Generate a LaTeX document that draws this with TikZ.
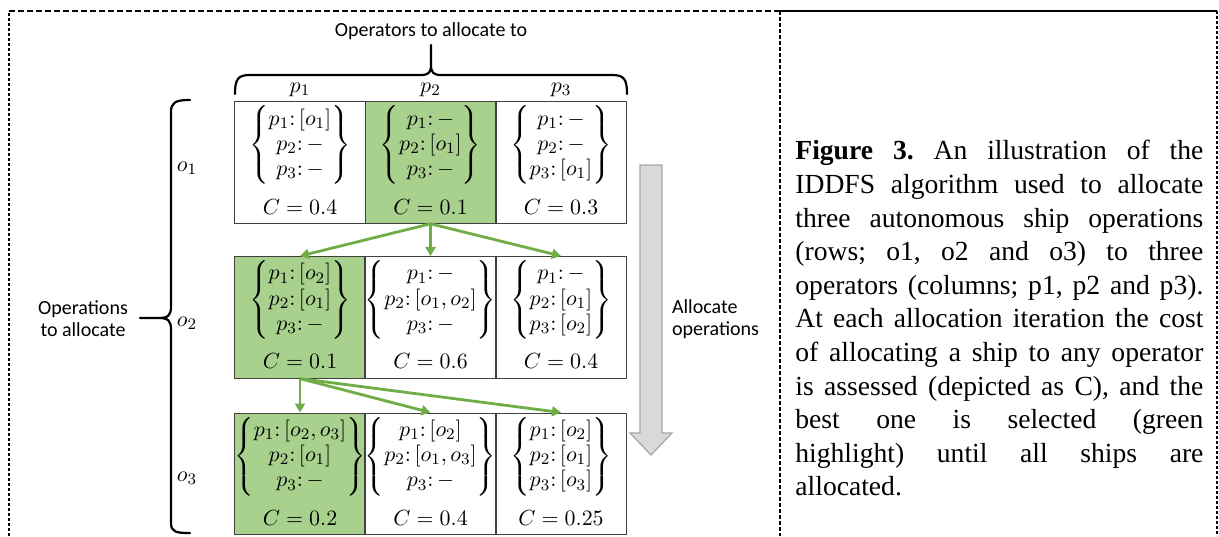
\documentclass[tikz,border=0pt]{standalone}
\usepackage{amsmath}
\usepackage{fontspec}
\newfontfamily\capfont{Liberation Serif}
\newfontfamily\lblfont{Carlito}
\usetikzlibrary{arrows.meta}
\definecolor{selgreen}{RGB}{169,209,142}
\definecolor{pickgreen}{RGB}{112,173,71}

\begin{document}
\begin{tikzpicture}[x=0.5pt, y=-0.5pt,
    every node/.style={font=\fontsize{11}{12.6}\selectfont},
    cellbox/.style={draw=black!75, line width=0.5pt, minimum width=65.5pt, minimum height=60.8pt,
      inner sep=0pt, text height=24.5pt, text depth=36.3pt},
    costlbl/.style={anchor=south, yshift=1.3pt},
    pick/.style={pickgreen, line width=1.4pt, -{Triangle[length=4.5pt,width=5pt]}},
    brace/.style={line width=1.1pt, line cap=round, line join=round},
    lbl/.style={font=\lblfont\fontsize{10}{11}\selectfont, align=center}]
  \useasboundingbox (0,0) rectangle (1219,536);

  % frame
  \draw[line width=1pt, dash pattern=on 1.6pt off 0.9pt] (9,536) -- (9,11);
  \draw[line width=0.7pt, dash pattern=on 3pt off 1.5pt] (9,11) -- (779,11);
  \draw[line width=0.8pt] (779,11) -- (1217,11);
  \draw[line width=0.6pt, dash pattern=on 2pt off 1pt] (780,11) -- (780,536);
  \draw[line width=1pt, dash pattern=on 1.6pt off 0.9pt] (1217,11) -- (1217,536);

  % operators
  \node[lbl] (topLbl) at (431,31) {Operators to allocate to};
  \draw[brace] (235,94) .. controls (235,79) and (238,75) .. (250,75) -- (420,75)
    .. controls (429,75) and (431,73) .. (431,64) -- (431,45) -- (431,64)
    .. controls (431,73) and (433,75) .. (442,75) -- (612,75)
    .. controls (624,75) and (627,79) .. (627,94);
  \node (h1) at (300,90) {$p_1$};
  \node (h2) at (430.5,90) {$p_2$};
  \node (h3) at (561,90) {$p_3$};

  % operations
  \node[lbl] (opsLbl) at (83,319) {Operations\\to allocate};
  \draw[brace] (190,100) .. controls (176,100) and (171,102) .. (171,112) -- (171,306)
    .. controls (171,316) and (168,318) .. (158,318) -- (140,318) -- (158,318)
    .. controls (168,318) and (171,320) .. (171,330) -- (171,523)
    .. controls (171,532) and (176,533) .. (190,533);
  \node (o1) at (187,168) {$o_1$};
  \node (o2) at (187,323) {$o_2$};
  \node (o3) at (187,478) {$o_3$};

  % first operation
  \node[cellbox, label={[costlbl]south:$C = 0.4$}] (c11) at (300,162.5)
    {$\begin{Bmatrix} p_1{:}\,[o_1] \\ p_2{:}\,- \\ p_3{:}\,- \end{Bmatrix}$};
  \node[cellbox, fill=selgreen, label={[costlbl]south:$C = 0.1$}] (c12) at (430.5,162.5)
    {$\begin{Bmatrix} p_1{:}\,- \\ p_2{:}\,[o_1] \\ p_3{:}\,- \end{Bmatrix}$};
  \node[cellbox, label={[costlbl]south:$C = 0.3$}] (c13) at (561,162.5)
    {$\begin{Bmatrix} p_1{:}\,- \\ p_2{:}\,- \\ p_3{:}\,[o_1] \end{Bmatrix}$};

  % second operation
  \node[cellbox, fill=selgreen, label={[costlbl]south:$C = 0.1$}] (c21) at (300,317.3)
    {$\begin{Bmatrix} p_1{:}\,[o_2] \\ p_2{:}\,[o_1] \\ p_3{:}\,- \end{Bmatrix}$};
  \node[cellbox, label={[costlbl]south:$C = 0.6$}] (c22) at (430.5,317.3)
    {$\begin{Bmatrix} p_1{:}\,- \\ p_2{:}\,[o_1,o_2] \\ p_3{:}\,- \end{Bmatrix}$};
  \node[cellbox, label={[costlbl]south:$C = 0.4$}] (c23) at (561,317.3)
    {$\begin{Bmatrix} p_1{:}\,- \\ p_2{:}\,[o_1] \\ p_3{:}\,[o_2] \end{Bmatrix}$};

  % third operation
  \node[cellbox, fill=selgreen, label={[costlbl]south:$C = 0.2$}] (c31) at (300,473.8)
    {$\begin{Bmatrix} p_1{:}\,[o_2,o_3] \\ p_2{:}\,[o_1] \\ p_3{:}\,- \end{Bmatrix}$};
  \node[cellbox, label={[costlbl]south:$C = 0.4$}] (c32) at (430.5,473.8)
    {$\begin{Bmatrix} p_1{:}\,[o_2] \\ p_2{:}\,[o_1,o_3] \\ p_3{:}\,- \end{Bmatrix}$};
  \node[cellbox, label={[costlbl]south:$C = 0.25$}] (c33) at (561,473.8)
    {$\begin{Bmatrix} p_1{:}\,[o_2] \\ p_2{:}\,[o_1] \\ p_3{:}\,[o_3] \end{Bmatrix}$};

  \draw[pick] (c12.south) -- (c21.north);
  \draw[pick] (c12.south) -- (c22.north);
  \draw[pick] (c12.south) -- (c23.north);
  \draw[pick] (c21.south) -- (c31.north);
  \draw[pick] (c21.south) -- (c32.north);
  \draw[pick] (c21.south) -- (c33.north);

  % allocation direction
  \draw[fill=black!15, draw=black!35, line width=0.6pt] (640,165) -- (662,165) -- (662,433)
    -- (672,433) -- (651,455) -- (630,433) -- (640,433) -- cycle;
  \node[lbl, align=left, anchor=west] (allocLbl) at (665,319) {Allocate\\operations};

  % caption
  \node[anchor=north west, inner sep=0pt, text width=204pt, align=justify,
    font=\capfont\fontsize{13.8}{16.8}\selectfont\frenchspacing] (caption) at (795,140)
    {\textbf{Figure 3.} An illustration of the\linebreak
     IDDFS algorithm used to allocate\linebreak
     three autonomous ship operations\linebreak
     (rows; o1, o2 and o3) to three\linebreak
     operators (columns; p1, p2 and p3).\linebreak
     At each allocation iteration the cost\linebreak
     of allocating a ship to any operator\linebreak
     is assessed (depicted as C), and the\linebreak
     best one is selected (green\linebreak
     highlight) until all ships are\linebreak
     allocated.};
\end{tikzpicture}
\end{document}
